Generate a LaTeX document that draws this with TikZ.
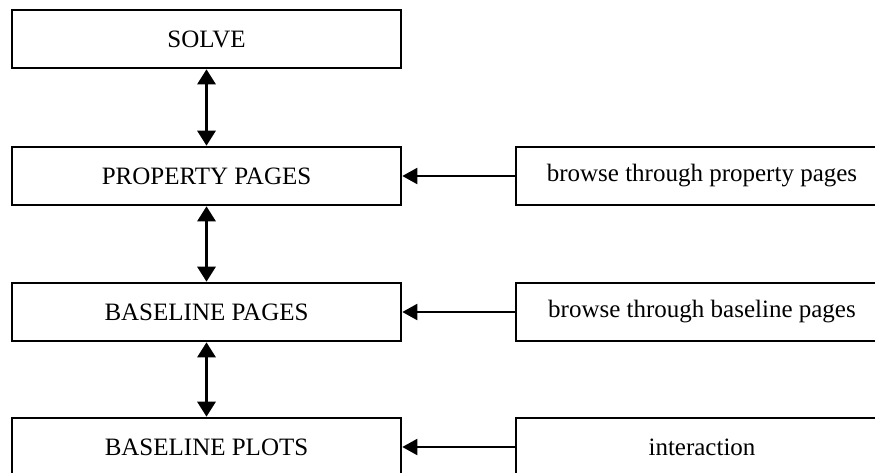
\documentclass[tikz,border=0pt]{standalone}
\usepackage{fontspec}
\setmainfont{Liberation Serif}
\usepackage{tikz}
\usetikzlibrary{positioning, arrows.meta}

\begin{document}
\begin{tikzpicture}[x=1pt, y=-1pt,
  every node/.style={draw, line width=2.6pt, rectangle, inner sep=0pt, minimum height=58pt, font=\fontsize{25}{30}\selectfont},
  stage/.style={minimum width=389pt},
  action/.style={minimum width=372pt},
  link/.style={line width=3pt, {Triangle[length=15pt,width=18pt]}-{Triangle[length=15pt,width=18pt]}},
  feed/.style={line width=2pt, -{Triangle[length=15pt,width=16pt]}}]
\useasboundingbox (0,0) rectangle (875,472);
\clip (0,0) rectangle (875,472);
% Nodes
\node[stage] (solve) at (206.5,39) {SOLVE};
\node[stage] (prop) at (206.5,176) {PROPERTY PAGES};
\node[stage] (bpages) at (206.5,312) {BASELINE PAGES};
\node[stage] (bplots) at (206.5,447) {BASELINE PLOTS};

\node[action] (browseprop) at (702,176) {browse through property pages};
\node[action] (browsebase) at (702,312) {browse through baseline pages};
\node[action] (interact) at (702,447) {interaction};

% Edges
\draw[link] (solve) -- (prop);
\draw[link] (prop) -- (bpages);
\draw[link] (bpages) -- (bplots);

\draw[feed] (browseprop) -- (prop);
\draw[feed] (browsebase) -- (bpages);
\draw[feed] (interact) -- (bplots);

\end{tikzpicture}
\end{document}
